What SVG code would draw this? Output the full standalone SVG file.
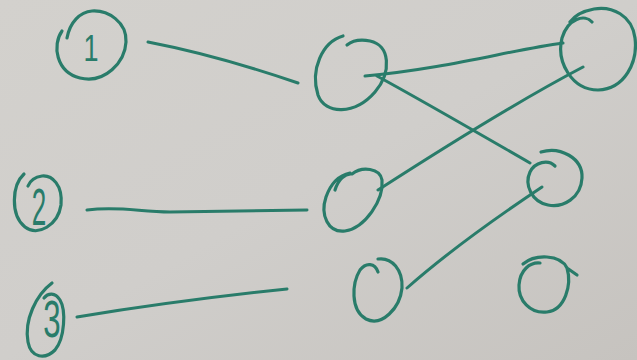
<svg xmlns="http://www.w3.org/2000/svg" width="637" height="360" viewBox="0 0 637 360">
<defs>
<linearGradient id="bg" x1="0" y1="0" x2="1" y2="1">
<stop offset="0" stop-color="#d3d1cd"/>
<stop offset="0.5" stop-color="#d0cecb"/>
<stop offset="1" stop-color="#c6c3bf"/>
</linearGradient>
<style>
.ink{fill:none;stroke:#297c6a;stroke-width:3.2;stroke-linecap:round;stroke-linejoin:round}
.conn{fill:none;stroke:#297c6a;stroke-width:3;stroke-linecap:round}
.lbl{fill:#297c6a;font-family:"Liberation Sans",Arial,sans-serif;text-anchor:middle}
</style>
</defs>
<rect width="637" height="360" fill="url(#bg)"/>
<g id="connectors">
<path class="conn" d="M 148 42 C 200 52, 260 70, 298 83"/>
<path class="conn" d="M 87 210 C 120 206, 140 212, 170 212 L 307 210"/>
<path class="conn" d="M 77 317 C 150 305, 220 296, 287 289"/>
<path class="conn" d="M 365 76 C 450 68, 510 50, 563 43"/>
<path class="conn" d="M 377 76 C 430 105, 490 140, 530 163"/>
<path class="conn" d="M 378 190 C 440 150, 520 100, 583 67"/>
<path class="conn" d="M 407 288 C 450 250, 500 215, 542 187"/>
</g>
<g id="node-1">
<path class="ink" d="M 62 31 C 52 45, 56 72, 80 78 C 105 84, 125 62, 126 42 C 127 22, 108 10, 92 11 C 80 12, 70 22, 67 38"/>
<text class="lbl" transform="translate(91,61) scale(0.75,1)" font-size="36">1</text>
</g>
<g id="node-2">
<path class="ink" d="M 24 174 C 12 185, 10 215, 25 227 C 38 237, 58 225, 61 205 C 63 185, 52 175, 42 176 C 35 177, 30 181, 28 186"/>
<text class="lbl" transform="translate(39,225) scale(0.5,1)" font-size="52">2</text>
</g>
<g id="node-3">
<path class="ink" d="M 52 283 C 36 295, 24 320, 28 342 C 31 358, 45 360, 55 350 C 65 338, 66 310, 60 300 C 55 292, 48 293, 44 298"/>
<text class="lbl" transform="translate(52,337) scale(0.6,1)" font-size="52">3</text>
</g>
<g id="node-a">
<path class="ink" d="M 343 36 C 322 42, 310 70, 318 95 C 325 115, 355 115, 375 92 C 392 72, 390 45, 370 41 C 360 39, 352 41, 347 45"/>
</g>
<g id="node-b">
<path class="ink" d="M 592 22 C 585 14, 568 18, 562 38 C 556 62, 572 90, 598 90 C 625 89, 638 62, 635 38 C 632 15, 612 6, 594 9 C 583 11, 575 15, 570 22"/>
</g>
<g id="node-c">
<path class="ink" d="M 541 152 C 560 146, 583 158, 582 178 C 581 198, 563 208, 548 205 C 532 202, 524 185, 530 172 C 535 162, 548 159, 555 166"/>
</g>
<g id="node-d">
<path class="ink" d="M 335 190 C 338 180, 345 173, 352 174 C 362 166, 380 168, 382 180 C 384 200, 365 228, 345 231 C 328 233, 320 215, 326 197 C 331 183, 340 175, 350 173"/>
</g>
<g id="node-e">
<path class="ink" d="M 378 272 C 375 263, 366 262, 360 270 C 352 283, 350 310, 366 319 C 382 327, 400 308, 402 288 C 403 270, 392 257, 378 259"/>
</g>
<g id="node-f">
<path class="ink" d="M 523 264 C 535 254, 560 254, 567 268 L 577 275 M 567 268 C 572 285, 565 310, 547 312 C 530 314, 518 300, 519 285 C 520 270, 530 262, 540 263"/>
</g>
</svg>
